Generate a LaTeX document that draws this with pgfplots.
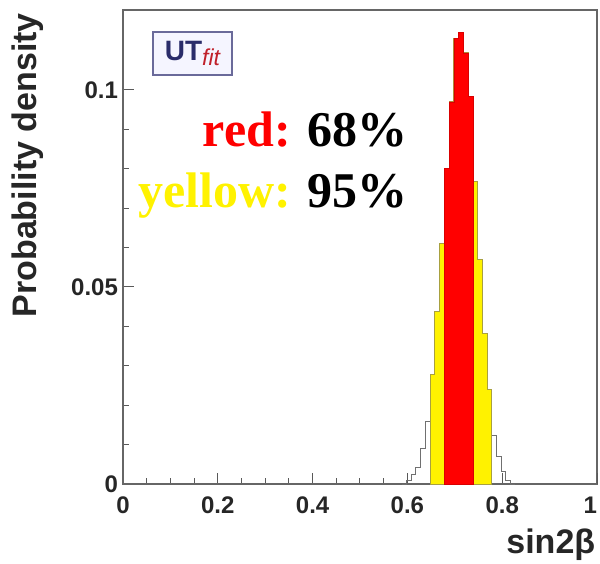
\documentclass[border=0pt]{standalone}
\usepackage{pgfplots}
\usepackage{pgfplotstable}
\pgfplotsset{compat=1.18}
\usepackage{fontspec}
\setmainfont{Liberation Sans}
\newfontfamily\serifb{Liberation Serif}

\definecolor{utblue}{HTML}{2A2C6A}
\definecolor{utred}{HTML}{C0202A}
\definecolor{utframe}{HTML}{6A6A9A}
\definecolor{histline}{HTML}{707070}
\definecolor{yedge}{HTML}{A8A040}

% posterior of sin2beta, bins of 0.01 (left edge, probability)
\pgfplotstableread{
x      p
0.588  0
0.598  0.0010
0.608  0.0023
0.618  0.0043
0.628  0.0091
0.638  0.0158
0.648  0.0277
0.658  0.0437
0.668  0.0611
0.678  0.0800
0.688  0.0970
0.698  0.1131
0.708  0.1146
0.718  0.1094
0.728  0.0983
0.738  0.0767
0.748  0.0569
0.758  0.0383
0.768  0.0239
0.778  0.0124
0.788  0.0069
0.798  0.0031
0.808  0.0008
0.818  0
0.828  0
}\posterior

\begin{document}
\begin{tikzpicture}
\begin{axis}[
    at={(0,0)}, anchor=south west,
    scale only axis,
    width=237pt, height=237pt,
    xmin=0, xmax=1, ymin=0, ymax=0.1203,
    xtick={0,0.2,0.4,0.6,0.8},
    xticklabels={0,0.2,0.4,0.6,0.8},
    extra x ticks={1},
    extra x tick labels={1},
    extra x tick style={xticklabel style={anchor=north east, xshift=3.5pt}},
    ytick={0,0.05,0.1},
    yticklabels={0,0.05,0.1},
    minor x tick num=3,
    minor y tick num=4,
    tick pos=left,
    tick align=inside,
    major tick length=5.5pt,
    minor tick length=3pt,
    every tick/.style={black!65, line width=0.5pt},
    axis line style={black!60, line width=0.6pt},
    /pgf/number format/assume math mode=true,
    ticklabel style={font=\bfseries\fontsize{12}{12}\selectfont, text=black!85},
    xticklabel style={yshift=-3pt},
    yticklabel style={xshift=1pt},
    every axis x label/.style={at={(axis description cs:0.997,-0.146)}, anchor=base east, inner sep=0pt},
    every axis y label/.style={at={(axis description cs:-0.1815,0.994)}, rotate=90, anchor=base east, inner sep=0pt},
    label style={font=\bfseries\fontsize{17}{17}\selectfont, text=black!85},
    xlabel={sin2β},
    ylabel={Probability density},
    clip=false,
]
% full histogram outline
\addplot[const plot mark left, draw=histline, line width=0.5pt] table[x=x, y=p] {\posterior};
% 95% region
\addplot[const plot mark left, fill=yellow, draw=yedge, line width=0.5pt,
    restrict x to domain=0.645:0.781] table[x=x, y=p] {\posterior} \closedcycle;
% 68% region
\addplot[const plot mark left, fill=red, draw=red!85!black, line width=0.3pt,
    restrict x to domain=0.675:0.741] table[x=x, y=p] {\posterior} \closedcycle;

\node[draw=utframe, line width=1pt, fill=blue!4, minimum width=39.5pt, minimum height=21.5pt,
      inner sep=0pt] at (rel axis cs:0.1466,0.908)
      {\bfseries\fontsize{14}{14}\selectfont\color{utblue}UT\raisebox{-2.5pt}{\fontsize{11.5}{11.5}\selectfont\itshape\mdseries\color{utred}fit}};

\node[anchor=base east, inner sep=0pt] at (rel axis cs:0.601,0.711)
      {\serifb\bfseries\fontsize{25}{25}\selectfont\textcolor{red}{red:} 68\%};
\node[anchor=base east, inner sep=0pt] at (rel axis cs:0.601,0.5823)
      {\serifb\bfseries\fontsize{25}{25}\selectfont\textcolor{yellow}{yellow:} 95\%};
\end{axis}
\pgfresetboundingbox
\useasboundingbox (-61.5pt,-39.5pt) rectangle (238.5pt,242pt);
\end{tikzpicture}
\end{document}
